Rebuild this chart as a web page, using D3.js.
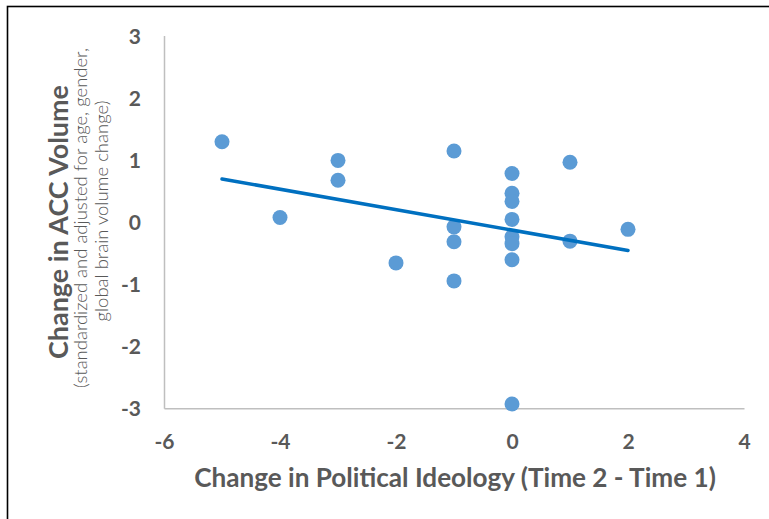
<!DOCTYPE html>
<html>
<head>
<meta charset="utf-8">
<script src="https://cdn.jsdelivr.net/npm/d3@7"></script>
<style>
  html, body { margin: 0; padding: 0; background: #fff; }
  svg { display: block; }
  text { font-family: Lato, "Open Sans", sans-serif; fill: #595959; }
</style>
</head>
<body>
<svg id="chart" width="769" height="519"></svg>
<script>
// Change in political ideology vs. change in ACC volume, one point per participant
const ideologyChange = [-5, -4, -3, -3, -2, -1, -1, -1, -1, 0, 0, 0, 0, 0, 0, 0, 0, 1, 1, 2];
const accChange = [1.29, 0.07, 0.99, 0.67, -0.66, 1.14, -0.08, -0.32, -0.95, 0.78, 0.46, 0.33, 0.04, -0.24, -0.35, -0.61, -2.93, 0.96, -0.31, -0.12];
const xTicks = [-6, -4, -2, 0, 2, 4];
const yTicks = [-3, -2, -1, 0, 1, 2, 3];
const xTitle = "Change in Political Ideology (Time 2 - Time 1)";
const yTitle = "Change in ACC Volume";
const ySubtitle = ["(standardized and adjusted for age, gender,", "global brain volume change)"];

const svg = d3.select("#chart");

// scale a text's font size so the string spans the given length
function fitText(sel, length) {
  const base = parseFloat(sel.style("font-size"));
  const w = sel.node().getComputedTextLength();
  if (w > 0) sel.style("font-size", (base * length / w).toFixed(2) + "px");
  return sel;
}

// frame
svg.append("rect")
  .attr("x", 7.5).attr("y", 6.5)
  .attr("width", 800).attr("height", 600)
  .attr("fill", "none").attr("stroke", "#000").attr("stroke-width", 1.6);

const x = d3.scaleLinear().domain([-6, 4]).range([164, 744]);
const y = d3.scaleLinear().domain([-3, 3]).range([408.3, 35.5]);
const plain = d => String(d);

// axes
const xAxis = svg.append("g")
  .attr("transform", `translate(0,${y(-3)})`)
  .call(d3.axisBottom(x).tickValues(xTicks).tickSize(0).tickPadding(0).tickFormat(plain));
const yAxis = svg.append("g")
  .attr("transform", `translate(${x(-6)},0)`)
  .call(d3.axisLeft(y).tickValues(yTicks).tickSize(0).tickPadding(0).tickFormat(plain));

[xAxis, yAxis].forEach(g => {
  g.select(".domain").attr("stroke", "#bfbfbf").attr("stroke-width", 1.5);
  g.selectAll("text")
    .attr("fill", "#595959")
    .style("font-family", "Lato, sans-serif")
    .style("font-weight", "bold")
    .style("font-size", "21px");
});
xAxis.selectAll("text").attr("dy", null).attr("y", 41);
yAxis.selectAll("text").attr("dy", "0.36em").attr("x", -23);

// least-squares trend line
const n = ideologyChange.length;
const mx = d3.mean(ideologyChange), my = d3.mean(accChange);
let sxy = 0, sxx = 0;
for (let i = 0; i < n; i++) {
  sxy += (ideologyChange[i] - mx) * (accChange[i] - my);
  sxx += (ideologyChange[i] - mx) ** 2;
}
const slope = sxy / sxx, intercept = my - slope * mx;
const xExt = d3.extent(ideologyChange);

// points
svg.append("g").selectAll("circle")
  .data(d3.range(n))
  .join("circle")
  .attr("cx", i => x(ideologyChange[i]))
  .attr("cy", i => y(accChange[i]))
  .attr("r", 7.5)
  .attr("fill", "#5b9bd5");

svg.append("line")
  .attr("x1", x(xExt[0])).attr("y1", y(intercept + slope * xExt[0]))
  .attr("x2", x(xExt[1])).attr("y2", y(intercept + slope * xExt[1]))
  .attr("stroke", "#0070c0").attr("stroke-width", 3.5).attr("stroke-linecap", "round");

// titles
fitText(svg.append("text")
  .attr("x", 455).attr("y", 487)
  .attr("text-anchor", "middle")
  .style("font-weight", "bold").style("font-size", "24px")
  .text(xTitle), 522);

fitText(svg.append("text")
  .attr("transform", "translate(68,222) rotate(-90)")
  .attr("text-anchor", "middle")
  .style("font-weight", "bold").style("font-size", "24px")
  .text(yTitle), 274);

const sub1 = fitText(svg.append("text")
  .attr("transform", "translate(87,218) rotate(-90)")
  .attr("text-anchor", "middle")
  .style("font-weight", "300").style("font-size", "16px")
  .text(ySubtitle[0]), 340);
svg.append("text")
  .attr("transform", "translate(108,211) rotate(-90)")
  .attr("text-anchor", "middle")
  .style("font-weight", "300").style("font-size", sub1.style("font-size"))
  .text(ySubtitle[1]);
</script>
</body>
</html>
